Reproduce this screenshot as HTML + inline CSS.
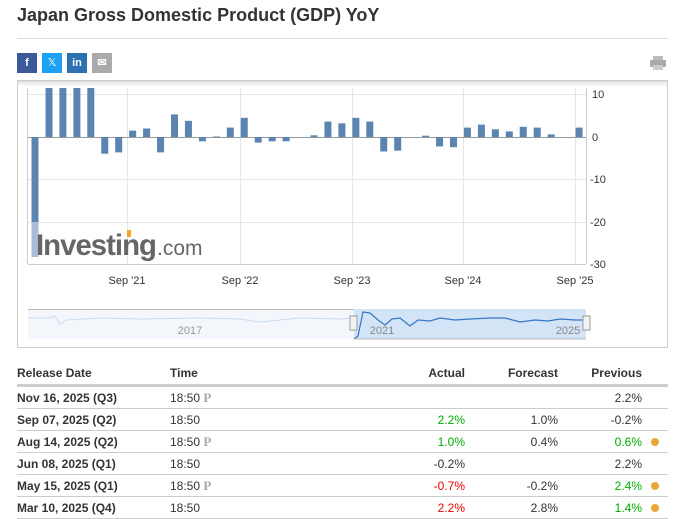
<!DOCTYPE html>
<html><head><meta charset="utf-8"><style>
body{margin:0;width:688px;height:515px;background:#fff;font-family:"Liberation Sans",Arial,sans-serif;overflow:hidden;position:relative;color:#333}
.t{position:absolute;white-space:nowrap}
h1{position:absolute;left:17px;top:5px;margin:0;font-size:18px;font-weight:bold;color:#333}
.btn{position:absolute;top:53px;width:20px;height:20px;color:#fff;font-size:11px;font-weight:bold;text-align:center;line-height:20px}
table{position:absolute;left:17px;top:362px;width:651px;border-collapse:collapse;font-size:12px}
td,th{height:21px;padding:0;border-bottom:1px solid #ccc;white-space:nowrap}
th{font-weight:bold;text-align:left;border-bottom:3px solid #ccc;height:22px}
td.d{font-weight:bold;width:153px}
.r{text-align:right}
.g{color:#0a0}.rd{color:#e00}
.p{color:#aaa;font-family:"Liberation Serif",serif;font-weight:bold;font-size:13px}
.dot{display:inline-block;width:8px;height:8px;border-radius:50%;background:#e8a838;margin-left:9px}
</style></head><body>
<h1>Japan Gross Domestic Product (GDP) YoY</h1>
<div style="position:absolute;left:17px;top:38px;width:651px;height:1px;background:#ddd"></div>
<div class="btn" style="left:17px;background:#3b5998">f</div>
<div class="btn" style="left:42px;background:#1da1f2;font-weight:normal">𝕏</div>
<div class="btn" style="left:67px;background:#2d72b0">in</div>
<div class="btn" style="left:92px;background:#aaa">✉</div>
<svg class="t" style="left:650px;top:55px" width="16" height="16"><rect x="3" y="1" width="10" height="4" fill="#bbb"/><rect x="0" y="5" width="16" height="7" rx="1" fill="#aaa"/><rect x="3" y="10" width="10" height="5" fill="#ccc"/></svg>
<svg class="t" style="left:0;top:80px" width="688" height="270" viewBox="0 80 688 270">
<defs><linearGradient id="sh" x1="0" y1="0" x2="0" y2="1"><stop offset="0" stop-color="#ddd"/><stop offset="1" stop-color="#fff" stop-opacity="0"/></linearGradient></defs>
<rect x="17.5" y="80.5" width="650" height="267" fill="#fff" stroke="#ccc"/>
<rect x="18" y="81" width="649" height="8" fill="url(#sh)"/>
<g stroke="#e6e6e6" stroke-width="1">
<line x1="28" y1="94.5" x2="586" y2="94.5"/><line x1="28" y1="179.5" x2="586" y2="179.5"/><line x1="28" y1="222.5" x2="586" y2="222.5"/>
<line x1="127.5" y1="88" x2="127.5" y2="264"/><line x1="240.5" y1="88" x2="240.5" y2="264"/><line x1="352.5" y1="88" x2="352.5" y2="264"/><line x1="463.5" y1="88" x2="463.5" y2="264"/><line x1="575.5" y1="88" x2="575.5" y2="264"/>
</g>
<line x1="28" y1="137.5" x2="586" y2="137.5" stroke="#999"/>
<line x1="27.5" y1="88" x2="27.5" y2="264" stroke="#ccc"/>
<line x1="586.5" y1="88" x2="586.5" y2="264" stroke="#ccc"/>
<line x1="28" y1="264.5" x2="586" y2="264.5" stroke="#ccc"/>
<g fill="#5b84b1">
<rect x="31.5" y="137" width="7" height="85"/><rect x="31.5" y="222" width="7" height="35" fill="#a9bdd6"/>
<rect x="45.5" y="88" width="7" height="49"/><rect x="59.4" y="88" width="7" height="49"/><rect x="73.4" y="88" width="7" height="49"/><rect x="87.3" y="88" width="7" height="49"/>
<rect x="101.25" y="137" width="7" height="16.7"/><rect x="115.2" y="137" width="7" height="15.4"/>
<rect x="129.15" y="130.6" width="7" height="6.4"/><rect x="143.1" y="128.5" width="7" height="8.5"/>
<rect x="157.05" y="137" width="7" height="15.4"/><rect x="171" y="114.4" width="7" height="22.6"/>
<rect x="184.95" y="120.8" width="7" height="16.2"/><rect x="198.9" y="137" width="7" height="4.3"/>
<rect x="212.85" y="136.5" width="7" height="0.8"/><rect x="226.8" y="127.6" width="7" height="9.4"/>
<rect x="240.75" y="117.8" width="7" height="19.2"/><rect x="254.7" y="137" width="7" height="5.6"/>
<rect x="268.65" y="137" width="7" height="4.3"/><rect x="282.6" y="137" width="7" height="4.3"/>
<rect x="310.5" y="135.3" width="7" height="1.7"/><rect x="324.45" y="121.6" width="7" height="15.4"/>
<rect x="338.4" y="123.3" width="7" height="13.7"/><rect x="352.35" y="117.8" width="7" height="19.2"/>
<rect x="366.3" y="121.6" width="7" height="15.4"/><rect x="380.25" y="137" width="7" height="14.5"/>
<rect x="394.2" y="137" width="7" height="13.7"/><rect x="422.1" y="135.7" width="7" height="1.3"/>
<rect x="436.05" y="137" width="7" height="9.4"/><rect x="450" y="137" width="7" height="10.2"/>
<rect x="463.95" y="127.6" width="7" height="9.4"/><rect x="477.9" y="124.6" width="7" height="12.4"/>
<rect x="491.85" y="129.3" width="7" height="7.7"/><rect x="505.8" y="131.4" width="7" height="5.6"/>
<rect x="519.75" y="126.8" width="7" height="10.2"/><rect x="533.7" y="127.6" width="7" height="9.4"/>
<rect x="547.65" y="134.4" width="7" height="2.6"/><rect x="575.55" y="127.6" width="7" height="9.4"/>
</g>
<g font-size="11" fill="#333">
<text x="592" y="98">10</text><text x="592" y="141">0</text><text x="590" y="183">-10</text><text x="590" y="226">-20</text><text x="590" y="268">-30</text>
<g text-anchor="middle"><text x="127" y="284">Sep '21</text><text x="240" y="284">Sep '22</text><text x="352" y="284">Sep '23</text><text x="463" y="284">Sep '24</text><text x="575" y="284">Sep '25</text></g>
</g>
<text x="36" y="255" font-size="30" font-weight="bold" fill="#666" letter-spacing="-1" textLength="120" lengthAdjust="spacingAndGlyphs">Investing</text>
<text x="157" y="255" font-size="21" fill="#666">.com</text>
<rect x="127" y="230" width="4" height="7" fill="#f5a623"/>
<rect x="28" y="309" width="326" height="30" fill="#f3f7fc"/>
<path d="M28 318 L50 318 L55 316 L60 324 L66 320 L100 318 L140 319 L200 318 L240 319 L260 322 L300 318 L340 319 L354 318" fill="none" stroke="#c8dcef"/>
<rect x="354" y="309" width="232" height="30" fill="#d3e4f7"/>
<path d="M354 339 L358 336 L363 312 L370 313 L378 320 L385 325 L392 319 L400 318 L410 326 L418 320 L430 321 L440 318 L455 320 L470 319 L490 318 L505 318 L520 322 L535 320 L548 321 L560 319 L575 320 L586 320" fill="none" stroke="#3477c4" stroke-width="1.2"/>
<path d="M28 309.5 H354 M354 339 H586" stroke="#bbb" fill="none"/>
<text x="190" y="334" font-size="11" fill="#999" text-anchor="middle">2017</text>
<text x="382" y="334" font-size="11" fill="#888" text-anchor="middle">2021</text>
<text x="568" y="334" font-size="11" fill="#888" text-anchor="middle">2025</text>
<rect x="350" y="316" width="7" height="14" fill="#f2f2f2" stroke="#999"/>
<rect x="583" y="316" width="7" height="14" fill="#f2f2f2" stroke="#999"/>
</svg>
<table>
<tr><th>Release Date</th><th>Time</th><th class="r" style="width:150px">Actual</th><th class="r" style="width:93px">Forecast</th><th class="r" style="width:84px">Previous</th><th style="width:26px"></th></tr>
<tr><td class="d">Nov 16, 2025 (Q3)</td><td>18:50 <span class="p">P</span></td><td class="r"></td><td class="r"></td><td class="r">2.2%</td><td></td></tr>
<tr><td class="d">Sep 07, 2025 (Q2)</td><td>18:50</td><td class="r g">2.2%</td><td class="r">1.0%</td><td class="r">-0.2%</td><td></td></tr>
<tr><td class="d">Aug 14, 2025 (Q2)</td><td>18:50 <span class="p">P</span></td><td class="r g">1.0%</td><td class="r">0.4%</td><td class="r g">0.6%</td><td><span class="dot"></span></td></tr>
<tr><td class="d">Jun 08, 2025 (Q1)</td><td>18:50</td><td class="r">-0.2%</td><td class="r"></td><td class="r">2.2%</td><td></td></tr>
<tr><td class="d">May 15, 2025 (Q1)</td><td>18:50 <span class="p">P</span></td><td class="r rd">-0.7%</td><td class="r">-0.2%</td><td class="r g">2.4%</td><td><span class="dot"></span></td></tr>
<tr><td class="d">Mar 10, 2025 (Q4)</td><td>18:50</td><td class="r rd">2.2%</td><td class="r">2.8%</td><td class="r g">1.4%</td><td><span class="dot"></span></td></tr>
</table>
</body></html>
